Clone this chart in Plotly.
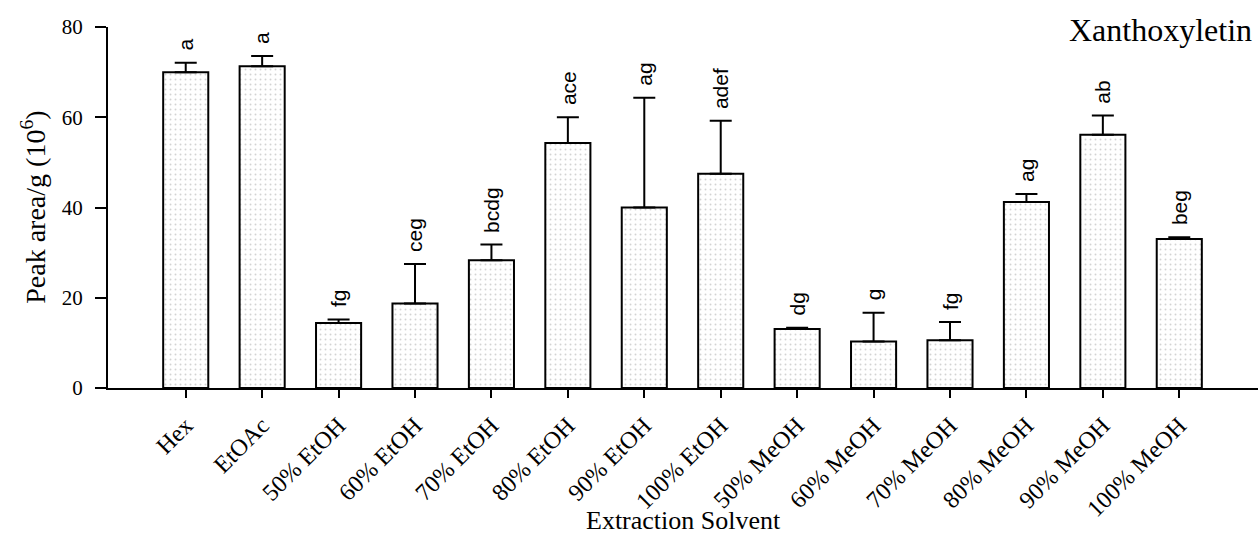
import plotly.graph_objects as go

solvents = ["Hex", "EtOAc", "50% EtOH", "60% EtOH", "70% EtOH", "80% EtOH", "90% EtOH",
            "100% EtOH", "50% MeOH", "60% MeOH", "70% MeOH", "80% MeOH", "90% MeOH", "100% MeOH"]
peak_area = [70.0, 71.3, 14.4, 18.7, 28.3, 54.3, 40.0, 47.5, 13.1, 10.3, 10.6, 41.2, 56.1, 33.0]
error_up = [2.1, 2.3, 0.8, 8.8, 3.5, 5.7, 24.3, 11.7, 0.25, 6.4, 4.0, 1.8, 4.3, 0.4]
groups = ["a", "a", "fg", "ceg", "bcdg", "ace", "ag", "adef", "dg", "g", "fg", "ag", "ab", "beg"]

serif = "Liberation Serif, Times New Roman, serif"
sans = "Liberation Sans, Arial, sans-serif"

fig = go.Figure()
fig.add_trace(go.Bar(
    x=list(range(len(solvents))), y=peak_area, width=0.59,
    marker=dict(color="white", line=dict(color="black", width=2),
                pattern=dict(shape=".", fgcolor="#a8a8a8", bgcolor="white", size=5, solidity=0.12)),
    error_y=dict(type="data", symmetric=False, array=error_up, arrayminus=[0] * len(error_up),
                 color="black", thickness=2, width=11),
    showlegend=False,
))

annotations = []
for i, (v, e, g) in enumerate(zip(peak_area, error_up, groups)):
    annotations.append(dict(x=i, y=v + e, xref="x", yref="y", text=g, textangle=-90,
                            showarrow=False, yanchor="bottom", xanchor="center", yshift=10,
                            font=dict(family=sans, size=21, color="black")))

annotations.append(dict(x=1, y=1, xref="paper", yref="paper", text="Xanthoxyletin",
                        showarrow=False, xanchor="right", yanchor="middle", xshift=-4, yshift=-3,
                        font=dict(family=serif, size=32, color="black")))
annotations.append(dict(x=0.5, y=-0.368, xref="paper", yref="paper", text="Extraction Solvent",
                        showarrow=False, xanchor="center", yanchor="middle",
                        font=dict(family=serif, size=26, color="black")))
annotations.append(dict(x=-0.065, y=0.5, xref="paper", yref="paper",
                        text="Peak area/g (10<sup>6</sup>)", textangle=-90,
                        showarrow=False, xanchor="center", yanchor="middle",
                        font=dict(family=serif, size=28, color="black")))

fig.update_layout(
    width=1258, height=534,
    margin=dict(l=108, r=0, t=27, b=146),
    plot_bgcolor="white", paper_bgcolor="white",
    annotations=annotations,
    bargap=0.4,
)
fig.update_xaxes(
    range=[-1.017, 14.03], tickmode="array", tickvals=list(range(len(solvents))), ticktext=solvents,
    tickangle=-45, ticks="outside", ticklen=8, tickwidth=2, tickcolor="black",
    showline=True, linecolor="black", linewidth=2, showgrid=False, zeroline=False,
    ticklabelstandoff=4,
    tickfont=dict(family=serif, size=24, color="black"),
)
fig.update_yaxes(
    range=[0, 80], tickvals=[0, 20, 40, 60, 80], ticks="outside", ticklen=11, tickwidth=2,
    tickcolor="black", showline=True, linecolor="black", linewidth=2, showgrid=False,
    zeroline=False, ticklabelstandoff=8,
    tickfont=dict(family=serif, size=21, color="black"),
)

fig.write_html("out.html", config={"displayModeBar": False},
               post_script="document.body.style.margin='0';")
